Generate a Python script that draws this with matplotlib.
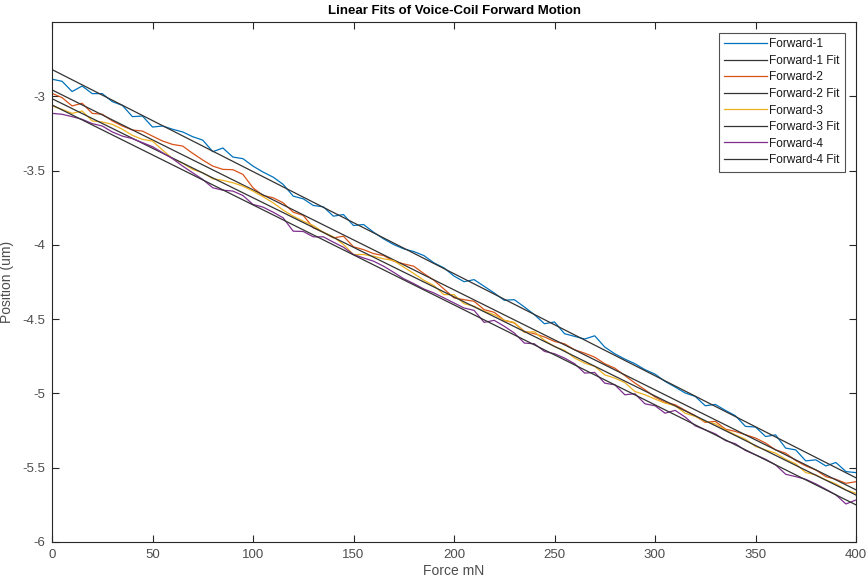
import numpy as np
import matplotlib.pyplot as plt

#######
# DATA
#######
force = list(range(0, 401, 5))

forward_1 = [-2.885, -2.899, -2.968, -2.931, -2.982, -2.982, -3.036, -3.061, -3.137, -3.133,
             -3.207, -3.200, -3.222, -3.240, -3.272, -3.295, -3.373, -3.348, -3.409, -3.420,
             -3.470, -3.510, -3.544, -3.593, -3.672, -3.690, -3.735, -3.744, -3.807, -3.796,
             -3.870, -3.863, -3.915, -3.960, -3.998, -4.027, -4.045, -4.072, -4.121, -4.155,
             -4.210, -4.248, -4.234, -4.279, -4.324, -4.373, -4.369, -4.418, -4.470, -4.531,
             -4.519, -4.598, -4.616, -4.634, -4.612, -4.688, -4.733, -4.769, -4.800, -4.840,
             -4.870, -4.919, -4.957, -4.997, -5.020, -5.083, -5.074, -5.114, -5.150, -5.222,
             -5.226, -5.290, -5.279, -5.368, -5.380, -5.454, -5.447, -5.488, -5.465, -5.526,
             -5.533]

forward_2 = [-2.980, -3.009, -3.065, -3.047, -3.115, -3.121, -3.166, -3.200, -3.227, -3.234,
             -3.268, -3.301, -3.324, -3.335, -3.384, -3.429, -3.470, -3.492, -3.494, -3.526,
             -3.616, -3.668, -3.683, -3.717, -3.780, -3.802, -3.885, -3.915, -3.953, -3.942,
             -4.013, -4.032, -4.059, -4.072, -4.110, -4.128, -4.144, -4.193, -4.238, -4.297,
             -4.357, -4.369, -4.380, -4.436, -4.454, -4.508, -4.526, -4.582, -4.598, -4.620,
             -4.650, -4.666, -4.706, -4.729, -4.756, -4.800, -4.830, -4.880, -4.930, -4.975,
             -5.024, -5.060, -5.076, -5.114, -5.150, -5.195, -5.188, -5.240, -5.256, -5.278,
             -5.300, -5.334, -5.380, -5.402, -5.452, -5.488, -5.515, -5.560, -5.578, -5.605,
             -5.594]

forward_3 = [-3.065, -3.088, -3.115, -3.099, -3.166, -3.173, -3.189, -3.222, -3.263, -3.290,
             -3.301, -3.362, -3.420, -3.450, -3.492, -3.515, -3.555, -3.566, -3.582, -3.605,
             -3.638, -3.676, -3.717, -3.766, -3.807, -3.841, -3.870, -3.915, -3.946, -3.998,
             -4.065, -4.065, -4.077, -4.094, -4.106, -4.150, -4.193, -4.238, -4.274, -4.335,
             -4.335, -4.396, -4.413, -4.447, -4.470, -4.508, -4.522, -4.589, -4.585, -4.643,
             -4.684, -4.710, -4.762, -4.796, -4.818, -4.875, -4.897, -4.927, -4.987, -5.009,
             -5.038, -5.065, -5.083, -5.133, -5.155, -5.189, -5.205, -5.245, -5.279, -5.308,
             -5.357, -5.380, -5.402, -5.443, -5.474, -5.533, -5.548, -5.582, -5.609, -5.650,
             -5.672]

forward_4 = [-3.115, -3.121, -3.137, -3.155, -3.184, -3.200, -3.240, -3.268, -3.285, -3.312,
             -3.339, -3.380, -3.420, -3.470, -3.515, -3.560, -3.616, -3.632, -3.638, -3.668,
             -3.728, -3.746, -3.780, -3.818, -3.908, -3.910, -3.946, -3.946, -3.982, -4.016,
             -4.065, -4.088, -4.110, -4.144, -4.185, -4.228, -4.261, -4.297, -4.324, -4.357,
             -4.391, -4.425, -4.441, -4.522, -4.508, -4.548, -4.593, -4.661, -4.666, -4.717,
             -4.733, -4.762, -4.800, -4.863, -4.859, -4.931, -4.942, -5.009, -5.002, -5.070,
             -5.083, -5.133, -5.114, -5.159, -5.218, -5.245, -5.272, -5.317, -5.339, -5.384,
             -5.413, -5.443, -5.481, -5.544, -5.560, -5.578, -5.609, -5.645, -5.683, -5.744,
             -5.717]

# linear fit coefficients (intercept, slope per mN)
fit_intercept = [-2.820, -2.957, -3.016, -3.058]
fit_slope = [-0.00687, -0.00673, -0.00667, -0.00673]

series = [forward_1, forward_2, forward_3, forward_4]
names = ['Forward-1', 'Forward-2', 'Forward-3', 'Forward-4']
colors = ['#0072BD', '#D95319', '#EDB120', '#7E2F8E']

#######
# PLOT
#######
plt.rcParams['font.family'] = ['Liberation Sans', 'DejaVu Sans']
axcol = '#262626'

fig = plt.figure(figsize=(8.68, 5.85), dpi=100)
ax = fig.add_axes([52/868, 43/585, 804/868, 520/585])

x = np.array(force)
for i in range(4):
    ax.plot(x, series[i], color=colors[i], lw=0.9, label=names[i])
    ax.plot(x, fit_intercept[i] + fit_slope[i]*x, color='#333333', lw=0.9,
            label=names[i] + ' Fit')

ax.set_xlim(0, 400)
ax.set_ylim(-6, -2.5)
ax.set_xticks(range(0, 401, 50))
ax.set_yticks([-6, -5.5, -5, -4.5, -4, -3.5, -3])
ax.set_yticklabels(['-6', '-5.5', '-5', '-4.5', '-4', '-3.5', '-3'])

ax.tick_params(direction='in', length=5, width=0.8, top=True, right=True,
               colors=axcol, labelcolor='#4d4d4d', labelsize=9.5, pad=5)
for s in ax.spines.values():
    s.set_color(axcol)
    s.set_linewidth(0.8)

ax.set_title('Linear Fits of Voice-Coil Forward Motion', fontsize=9.5,
             fontweight='bold', color='black', pad=6)
ax.set_xlabel('Force mN', fontsize=10, color='#4d4d4d', labelpad=2)
ax.set_ylabel('Position (um)', fontsize=10, color='#4d4d4d', labelpad=6)

leg = ax.legend(loc='upper right', bbox_to_anchor=(1 - 11/804, 1 - 11/520),
                borderaxespad=0, fontsize=8.6, frameon=True, fancybox=False,
                handlelength=3.6, handletextpad=0.15, labelspacing=0.38,
                borderpad=0.45)
leg.get_frame().set_edgecolor(axcol)
leg.get_frame().set_linewidth(0.8)
for t in leg.get_texts():
    t.set_color('#1a1a1a')

fig.savefig('out.png', dpi=100)
